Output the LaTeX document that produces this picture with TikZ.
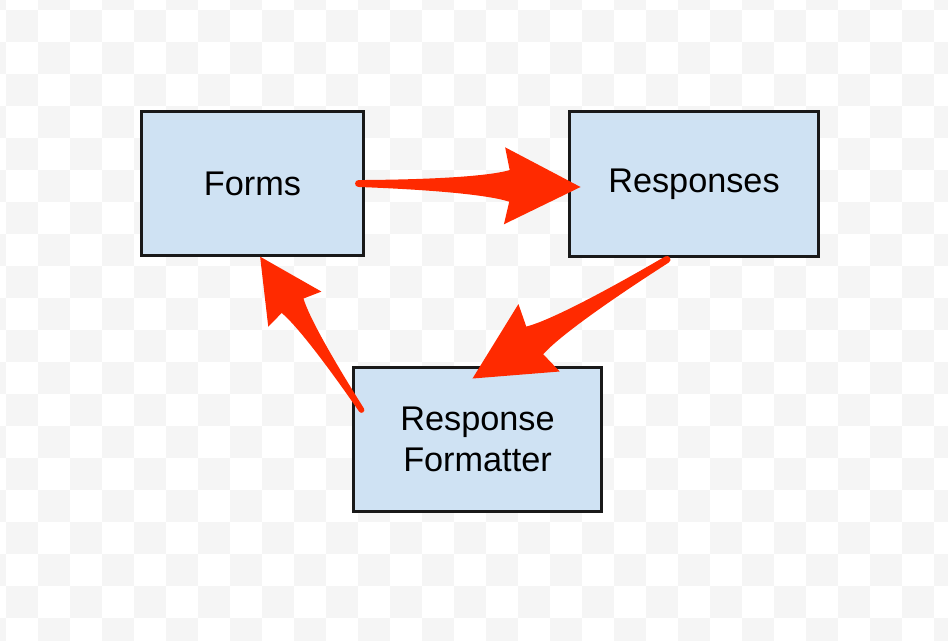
\documentclass[tikz,border=0pt]{standalone}
\usepackage{fontspec}
\setmainfont{Liberation Sans}
\usetikzlibrary{calc}
\definecolor{BoxBlue}{HTML}{CFE2F3}
\definecolor{ArrowRed}{HTML}{FF2A00}
\definecolor{CheckGray}{HTML}{F5F5F5}
\newcommand{\fatarrow}[2]{%
  \pgfpointdiff{\pgfpointanchor{#1}{center}}{\pgfpointanchor{#2}{center}}\pgfgetlastxy{\dx}{\dy}%
  \pgfmathsetmacro{\ang}{atan2(\dy,\dx)}\pgfmathsetmacro{\unit}{veclen(\dx,\dy)/225}%
  \begin{scope}[shift={(#1)},rotate=\ang,x=\unit pt,y=\unit pt]
    \fill[ArrowRed] (0,3.5) .. controls (70,5) and (130,9) .. (153,16) -- (148,39) -- (225,0) -- (148,-39) -- (153,-16) .. controls (130,-9) and (70,-5) .. (0,-3.5) .. controls (-4.5,-3.5) and (-4.5,3.5) .. (0,3.5) -- cycle;
  \end{scope}}

\begin{document}
\begin{tikzpicture}[x=0.02cm,y=-0.02cm,
  box/.style={draw=black!90,fill=BoxBlue,line width=1.7pt,font=\fontsize{19.5}{23.3}\selectfont,align=center,inner sep=0pt}]
  \useasboundingbox (0,0) rectangle (948,640);
  \begin{scope}
    \clip (0,0) rectangle (948,640);
    \fill[white] (0,0) rectangle (948,640);
    \foreach \k in {-1,...,29}{\foreach \j in {-1,...,19}{\pgfmathtruncatemacro{\shade}{mod(\k+\j+2,2)}\ifnum\shade=0\fill[CheckGray] (6+32*\k,10+32*\j) rectangle ++(32,32);\fi}}
  \end{scope}
  \node[box,minimum width=4.46cm,minimum height=2.9cm] (forms) at (252.5,183.5) {Forms};
  \node[box,minimum width=5cm,minimum height=2.92cm] (responses) at (694,184) {Responses};
  \node[box,minimum width=4.98cm,minimum height=2.9cm] (formatter) at (477.5,439.5) {Response\\Formatter};
  \coordinate (a1s) at ($(forms.east)+(-7,0)$);
  \coordinate (a1e) at ($(responses.west)+(13,3)$);
  \coordinate (a2s) at ($(responses.south)+(-27,1)$);
  \coordinate (a2e) at ($(formatter.north)+(-5,13)$);
  \coordinate (a3s) at ($(formatter.west)+(10,-29.5)$);
  \coordinate (a3e) at ($(forms.south)+(7.5,-1)$);
  \fatarrow{a1s}{a1e}
  \fatarrow{a2s}{a2e}
  \fatarrow{a3s}{a3e}
\end{tikzpicture}
\end{document}
